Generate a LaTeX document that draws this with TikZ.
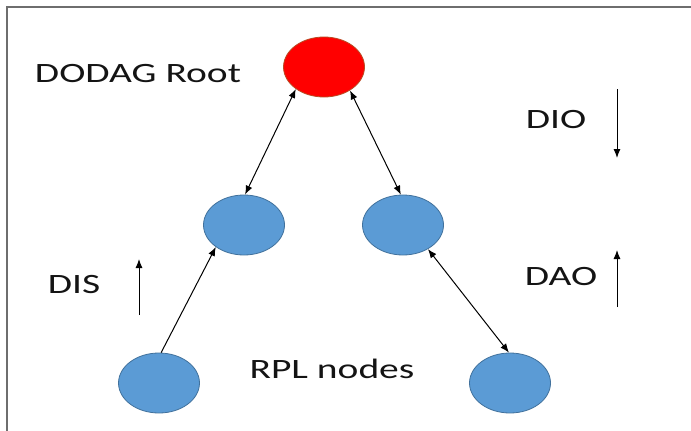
\documentclass[tikz,border=0pt]{standalone}
\usepackage{fontspec}
\setmainfont{Carlito}
\usetikzlibrary{arrows.meta,shapes.geometric}
\definecolor{rootred}{RGB}{255,0,0}
\definecolor{rootedge}{RGB}{185,75,35}
\definecolor{nodeblue}{RGB}{91,155,213}
\definecolor{nodeedge}{RGB}{65,113,156}
\definecolor{framegrey}{RGB}{110,110,110}
\definecolor{txt}{RGB}{20,20,20}
\newcommand{\wtxt}[1]{\scalebox{1.41}[1]{#1}}
\tikzset{
	rpl/.style={ellipse, draw=nodeedge, fill=nodeblue, line width=0.8pt, minimum width=81pt, minimum height=60pt, inner sep=0pt},
	dodag/.style={rpl, draw=rootedge, fill=rootred},
	lbl/.style={font=\fontsize{28}{30}\selectfont, text=txt, inner sep=0pt, anchor=base},
	link/.style={line width=1pt, black, >={Latex[length=9pt, width=7pt]}}
}
\begin{document}
\begin{tikzpicture}[x=1pt, y=-1pt]
			\useasboundingbox (0,0) rectangle (691,431);
			\draw[framegrey, line width=1.8pt]	(7,431) -- (7,7) -- (691,7);

			\node[dodag]	(root)	at (324,67)	{};
			\node[rpl]		(midL)	at (244,225)	{};
			\node[rpl]		(midR)	at (403,225)	{};
			\node[rpl]		(botL)	at (159,383)	{};
			\node[rpl]		(botR)	at (510,383)	{};

			\node[lbl]	(rootlbl)	at (138,82)	{\wtxt{DODAG Root}};
			\node[lbl]	(diolbl)	at (556,128)	{\wtxt{DIO}};
			\node[lbl]	(dislbl)	at (74,293)	{\wtxt{DIS}};
			\node[lbl]	(daolbl)	at (561,285)	{\wtxt{DAO}};
			\node[lbl]	(rpllbl)	at (332,378)	{\wtxt{RPL nodes}};

			\draw[link, <->]	(root.218) -- (midL.88);
			\draw[link, <->]	(root.318) -- (midR.94);
			\draw[link, ->]		(botL.86) -- (midL.218);
			\draw[link, <->]	(midR.316) -- (botR.92);

			\coordinate (dioA) at (617,89);
			\coordinate (dioB) at (617,158);
			\coordinate (disA) at (139,315);
			\coordinate (disB) at (139,259);
			\coordinate (daoA) at (617,307);
			\coordinate (daoB) at (617,250);
			\draw[link, ->]	(dioA) -- (dioB);
			\draw[link, ->]	(disA) -- (disB);
			\draw[link, ->]	(daoA) -- (daoB);
		\end{tikzpicture}
\end{document}
